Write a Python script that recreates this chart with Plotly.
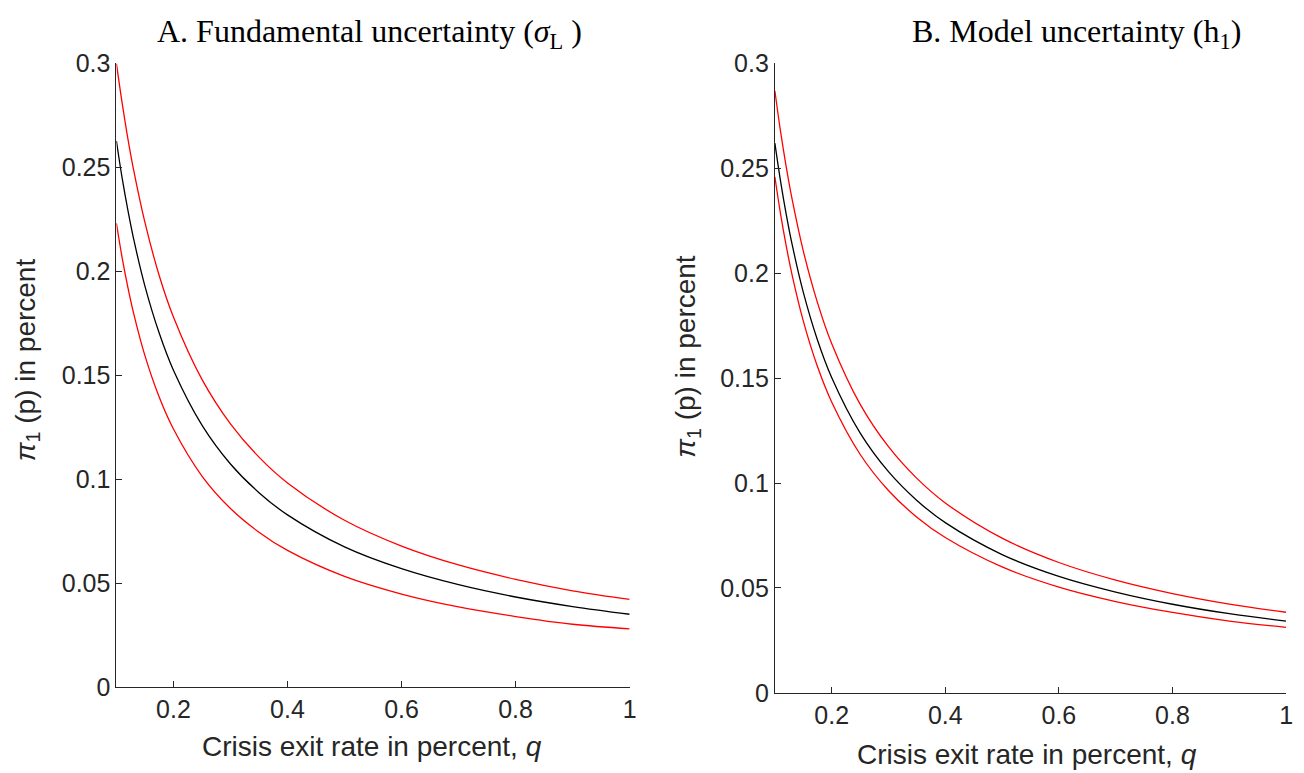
import plotly.graph_objects as go

# crisis exit rate q (percent)
q = [0.10, 0.11, 0.12, 0.13, 0.15, 0.175, 0.20, 0.25, 0.30, 0.35, 0.40, 0.50, 0.60, 0.70, 0.80, 0.90, 1.00]

# Panel A: fundamental uncertainty (sigma_L)
a_upper = [0.300, 0.281, 0.264, 0.249, 0.2235, 0.198, 0.178, 0.148, 0.1266, 0.1106, 0.0982, 0.0802, 0.0678, 0.0587, 0.0518, 0.0463, 0.0422]
a_mid   = [0.2627, 0.2449, 0.2295, 0.2158, 0.1929, 0.1703, 0.1524, 0.1260, 0.1073, 0.0935, 0.0828, 0.0674, 0.0569, 0.0492, 0.0433, 0.0387, 0.0350]
a_lower = [0.2231, 0.2066, 0.1924, 0.1800, 0.1594, 0.1395, 0.1241, 0.1015, 0.0859, 0.0745, 0.0657, 0.0532, 0.0447, 0.0385, 0.0339, 0.0302, 0.0280]

# Panel B: model uncertainty (h_1)
b_upper = [0.287, 0.2676, 0.2507, 0.2358, 0.2107, 0.1860, 0.1665, 0.1376, 0.1173, 0.1022, 0.0905, 0.0737, 0.0621, 0.0537, 0.0473, 0.0423, 0.0384]
b_mid   = [0.262, 0.2439, 0.2281, 0.2142, 0.1910, 0.1682, 0.1503, 0.1239, 0.1054, 0.0917, 0.0811, 0.0659, 0.0555, 0.0480, 0.0422, 0.0377, 0.0342]
b_lower = [0.246, 0.2283, 0.2130, 0.1996, 0.1773, 0.1555, 0.1386, 0.1137, 0.0964, 0.0837, 0.0740, 0.0600, 0.0504, 0.0435, 0.0383, 0.0342, 0.0312]

x_ticks = [0.2, 0.4, 0.6, 0.8, 1.0]
x_ticktext = ["0.2", "0.4", "0.6", "0.8", "1"]
y_ticks = [0, 0.05, 0.1, 0.15, 0.2, 0.25, 0.3]
y_ticktext = ["0", "0.05", "0.1", "0.15", "0.2", "0.25", "0.3"]

W, H = 1304, 773
AX = "#262626"
SANS = "Liberation Sans, Arial, sans-serif"
SERIF = "Liberation Serif, Times New Roman, serif"
TICK_SIZE = 25
LABEL_SIZE = 28
TITLE_SIZE = 32

fig = go.Figure()
for y, col in [(a_upper, "#ff0000"), (a_mid, "#000000"), (a_lower, "#ff0000")]:
    fig.add_trace(go.Scatter(x=q, y=y, mode="lines", line=dict(color=col, width=1.3, shape="spline"),
                             xaxis="x", yaxis="y", showlegend=False, hoverinfo="skip"))
for y, col in [(b_upper, "#ff0000"), (b_mid, "#000000"), (b_lower, "#ff0000")]:
    fig.add_trace(go.Scatter(x=q, y=y, mode="lines", line=dict(color=col, width=1.3, shape="spline"),
                             xaxis="x2", yaxis="y2", showlegend=False, hoverinfo="skip"))

def px_x(p):
    return p / W

def px_y(p):
    return 1 - p / H

common_x = dict(range=[0.1, 1.0], tickvals=x_ticks, ticktext=x_ticktext, ticks="inside", ticklen=6,
                tickcolor=AX, showline=True, linecolor=AX, linewidth=1, showgrid=False, zeroline=False,
                tickfont=dict(family=SANS, size=TICK_SIZE, color=AX), fixedrange=True)
common_y = dict(range=[0, 0.3], tickvals=y_ticks, ticktext=y_ticktext, ticks="inside", ticklen=6,
                tickcolor=AX, showline=True, linecolor=AX, linewidth=1, showgrid=False, zeroline=False,
                tickfont=dict(family=SANS, size=TICK_SIZE, color=AX), fixedrange=True)

fig.update_layout(
    width=W, height=H, margin=dict(l=0, r=0, t=0, b=0),
    paper_bgcolor="white", plot_bgcolor="white",
    xaxis=dict(domain=[px_x(109), px_x(625)], anchor="y", **common_x),
    yaxis=dict(domain=[px_y(690), px_y(43)], anchor="x", **common_y),
    xaxis2=dict(domain=[px_x(771), px_x(1285)], anchor="y2", **common_x),
    yaxis2=dict(domain=[px_y(696), px_y(43)], anchor="x2", **common_y),
    annotations=[
        dict(text="A. Fundamental uncertainty (<i>σ</i><sub>L</sub> )", x=px_x(363), y=px_y(12),
             xref="paper", yref="paper", showarrow=False, xanchor="center", yanchor="middle",
             font=dict(family=SERIF, size=TITLE_SIZE, color="#000000")),
        dict(text="B. Model uncertainty (h<sub>1</sub>)", x=px_x(1074), y=px_y(12),
             xref="paper", yref="paper", showarrow=False, xanchor="center", yanchor="middle",
             font=dict(family=SERIF, size=TITLE_SIZE, color="#000000")),
        dict(text="Crisis exit rate in percent, <i>q</i>", x=px_x(366), y=px_y(752),
             xref="paper", yref="paper", showarrow=False, xanchor="center", yanchor="middle",
             font=dict(family=SANS, size=LABEL_SIZE, color=AX)),
        dict(text="Crisis exit rate in percent, <i>q</i>", x=px_x(1025), y=px_y(760),
             xref="paper", yref="paper", showarrow=False, xanchor="center", yanchor="middle",
             font=dict(family=SANS, size=LABEL_SIZE, color=AX)),
        dict(text="<i>π</i><sub>1</sub> (p) in percent", x=px_x(19), y=px_y(350), textangle=-90,
             xref="paper", yref="paper", showarrow=False, xanchor="center", yanchor="middle",
             font=dict(family=SANS, size=LABEL_SIZE, color=AX)),
        dict(text="<i>π</i><sub>1</sub> (p) in percent", x=px_x(683), y=px_y(347), textangle=-90,
             xref="paper", yref="paper", showarrow=False, xanchor="center", yanchor="middle",
             font=dict(family=SANS, size=LABEL_SIZE, color=AX)),
    ],
)

fig.write_html("out.html")
